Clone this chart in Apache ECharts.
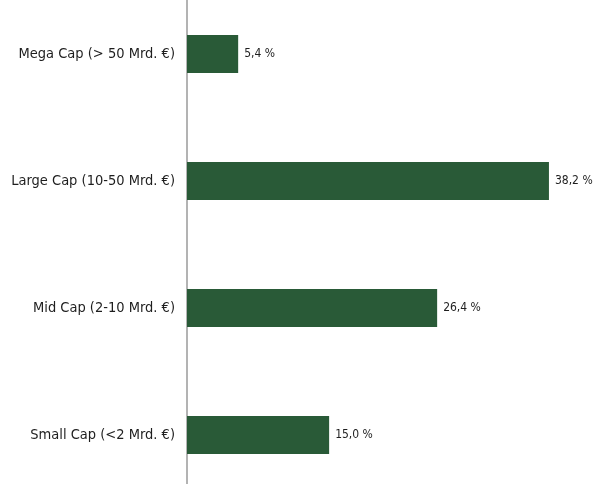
<!DOCTYPE html>
<html>
<head>
<meta charset="utf-8">
<script src="https://cdn.jsdelivr.net/npm/echarts@6/dist/echarts.min.js"></script>
<style>
  html, body { margin: 0; padding: 0; background: #fff; }
  #chart { width: 601px; height: 484px; }
</style>
</head>
<body>
<div id="chart"></div>
<script>
// Marktkapitalisierung – Anteile in %
const categories = [
  'Mega Cap (> 50 Mrd. €)',
  'Large Cap (10-50 Mrd. €)',
  'Mid Cap (2-10 Mrd. €)',
  'Small Cap (<2 Mrd. €)'
];
const shares = [5.4, 38.2, 26.4, 15.0];

const font = "'Liberation Sans Narrow', 'DejaVu Sans Condensed', 'Roboto Condensed', sans-serif";

let chart = echarts.init(document.getElementById('chart'));
let option = {
  animation: false,
  grid: {
    left: 187,
    right: 35,
    top: -9.5,
    height: 508,
    containLabel: false,
    outerBoundsMode: 'none'
  },
  xAxis: {
    type: 'value',
    min: 0,
    max: 40,
    show: false
  },
  yAxis: {
    type: 'category',
    inverse: true,
    data: categories,
    axisLine: { lineStyle: { color: '#9a9a9a', width: 1.5 } },
    axisTick: { show: false },
    axisLabel: {
      margin: 12,
      color: '#1e1e1e',
      fontSize: 14.5,
      fontFamily: font
    }
  },
  series: [
    {
      type: 'bar',
      data: shares,
      barWidth: 38,
      itemStyle: { color: '#295a37' },
      label: {
        show: true,
        position: 'right',
        distance: 6,
        color: '#1e1e1e',
        fontSize: 12,
        fontFamily: font,
        formatter: p => p.value.toFixed(1).replace('.', ',') + ' %'
      }
    }
  ]
};
chart.setOption(option);
</script>
</body>
</html>
